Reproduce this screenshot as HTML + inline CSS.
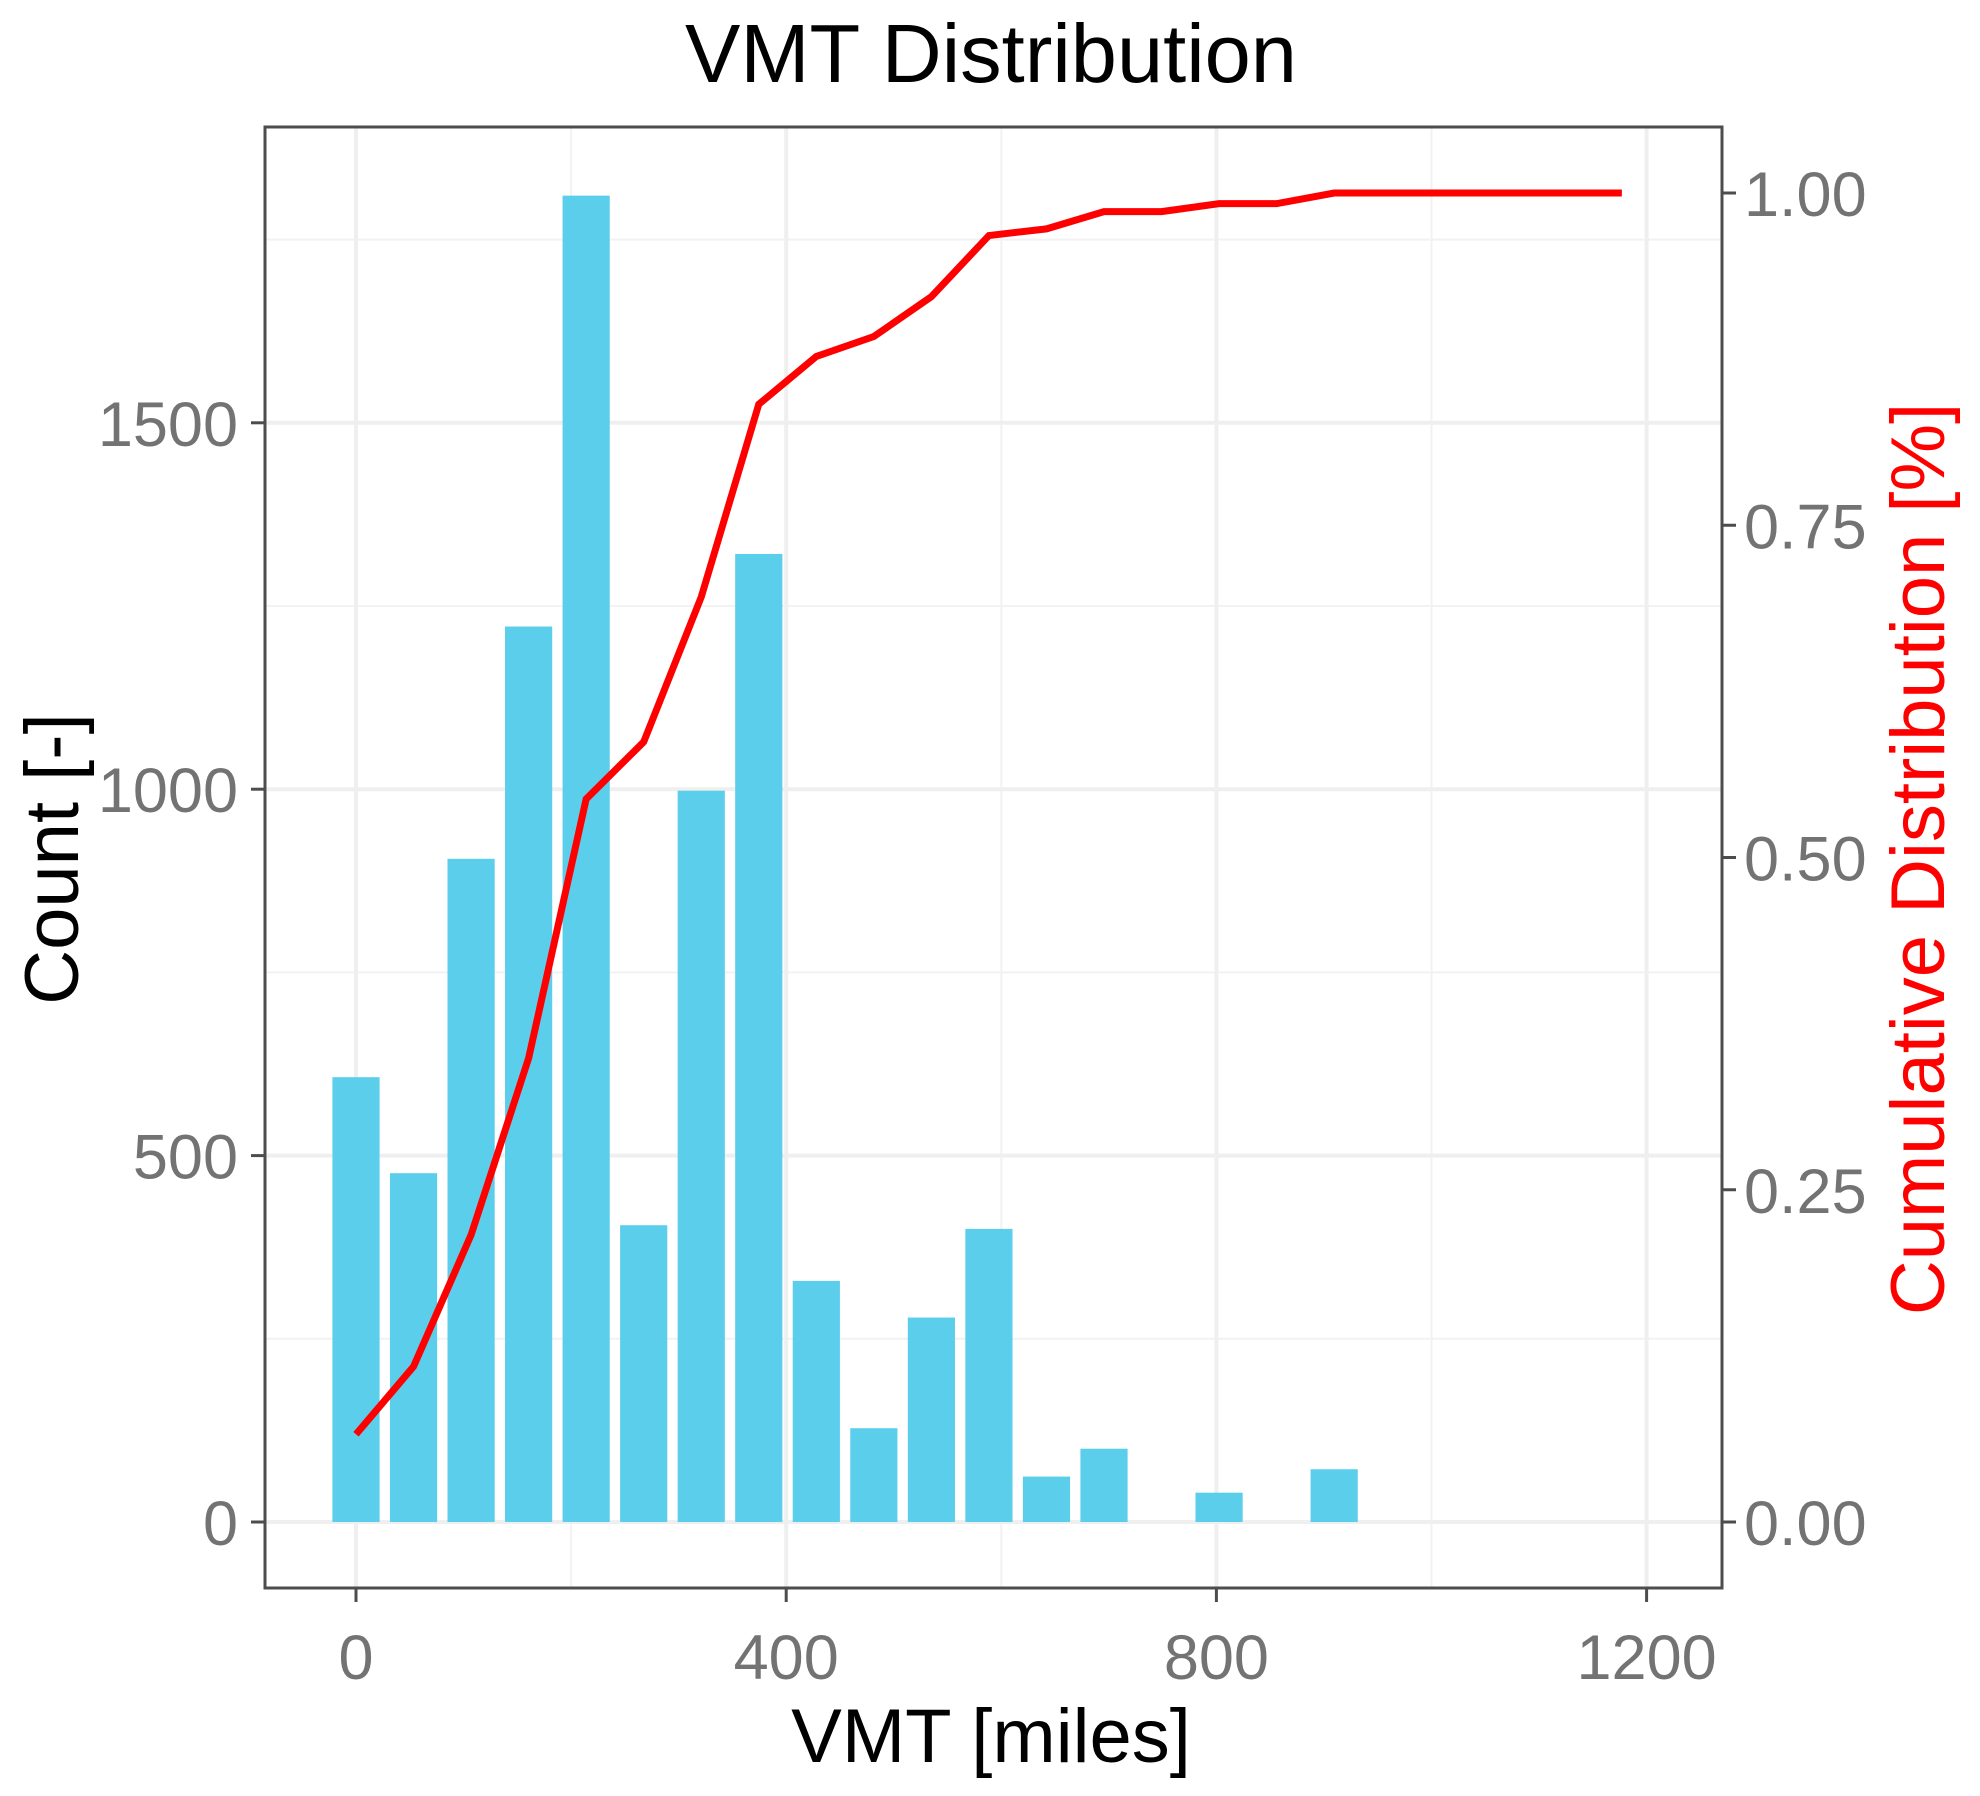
<!DOCTYPE html>
<html><head><meta charset="utf-8"><style>
html,body{margin:0;padding:0;background:#fff;}
svg{display:block;font-family:"Liberation Sans",Arial,sans-serif;}
</style></head><body>
<svg id="chart" width="1980" height="1796" viewBox="0 0 1980 1796" xmlns="http://www.w3.org/2000/svg">
<text x="991" y="82" font-size="83" text-anchor="middle" fill="#000">VMT Distribution</text>
<g id="grid"></g>
<g id="bars"></g>
<g id="line"></g>
<g id="axes"></g>
<text x="991" y="1762" font-size="76" text-anchor="middle" fill="#000">VMT [miles]</text>
<text transform="translate(78,859) rotate(-90)" font-size="76" text-anchor="middle" fill="#000">Count [-]</text>
<text transform="translate(1944,859) rotate(-90)" font-size="76" text-anchor="middle" fill="#ff0000">Cumulative Distribution [%]</text>
</svg>
<script>
const binCenters = [0,53.5,107,160.5,214,267.5,321,374.5,428,481.5,535,588.5,642,695.5,749,802.5,856,909.5,963,1016.5,1070,1123.5,1177];
const counts = [607,476,905,1222,1810,405,998,1321,329,128,279,400,62,100,0,40,0,72,0,0,0,0,0];
const cumulative = [0.066,0.117,0.216,0.349,0.544,0.587,0.696,0.841,0.877,0.892,0.922,0.968,0.973,0.986,0.986,0.992,0.992,1,1,1,1,1,1];
const xTicks = [0,400,800,1200];
const xMinor = [200,600,1000];
const yTicks = [0,500,1000,1500];
const yMinor = [250,750,1250,1750];
const y2Ticks = [0,0.25,0.5,0.75,1];
const y2Labels = ["0.00","0.25","0.50","0.75","1.00"];

const L=265,R=1722,T=127,B=1588;
const sx=v=>356+v*1.0755;
const sy=v=>1522-v*0.7328;
const sy2=v=>1522-v*1329;
const NS="http://www.w3.org/2000/svg";
function mk(tag,attrs,parent){const e=document.createElementNS(NS,tag);for(const k in attrs)e.setAttribute(k,attrs[k]);parent.appendChild(e);return e;}
const grid=document.getElementById('grid'),bars=document.getElementById('bars'),line=document.getElementById('line'),axes=document.getElementById('axes');

xMinor.forEach(v=>{const e=mk('line',{x1:sx(v),x2:sx(v),y1:T,y2:B,stroke:'#f2f2f2','stroke-width':2},grid);

});
yMinor.forEach(v=>{const e=mk('line',{x1:L,x2:R,y1:sy(v),y2:sy(v),stroke:'#f2f2f2','stroke-width':2},grid);

});
xTicks.forEach(v=>{const e=mk('line',{x1:sx(v),x2:sx(v),y1:T,y2:B,stroke:'#efefef','stroke-width':4},grid);

});
yTicks.forEach(v=>{const e=mk('line',{x1:L,x2:R,y1:sy(v),y2:sy(v),stroke:'#efefef','stroke-width':4},grid);

});

const bw=53.5*1.0755*0.82;
binCenters.forEach((c,i)=>{if(counts[i]<=0)return;const h=counts[i]*0.7328;
const e=mk('rect',{x:sx(c)-bw/2,y:sy(counts[i]),width:bw,height:h,fill:'#5bceeb'},bars);

});

const pts=binCenters.map((c,i)=>sx(c)+','+sy2(cumulative[i])).join(' ');
const pl=mk('polyline',{points:pts,fill:'none',stroke:'#ff0000','stroke-width':7,'stroke-linejoin':'miter'},line);



const fr=mk('rect',{x:L,y:T,width:R-L,height:B-T,fill:'none',stroke:'#4d4d4d','stroke-width':3},axes);



xTicks.forEach(v=>{mk('line',{x1:sx(v),x2:sx(v),y1:B,y2:B+14,stroke:'#4d4d4d','stroke-width':3},axes);
const t=mk('text',{x:sx(v),y:1679,'font-size':63,'text-anchor':'middle',fill:'#737373'},axes);t.textContent=v;

});
yTicks.forEach(v=>{mk('line',{x1:L-14,x2:L,y1:sy(v),y2:sy(v),stroke:'#4d4d4d','stroke-width':3},axes);
const t=mk('text',{x:238,y:sy(v)+23,'font-size':63,'text-anchor':'end',fill:'#737373'},axes);t.textContent=v;

});
y2Ticks.forEach((v,i)=>{mk('line',{x1:R,x2:R+14,y1:sy2(v),y2:sy2(v),stroke:'#4d4d4d','stroke-width':3},axes);
const t=mk('text',{x:1744,y:sy2(v)+23,'font-size':63,'text-anchor':'start',fill:'#737373'},axes);t.textContent=y2Labels[i];

});
</script>
</body></html>
